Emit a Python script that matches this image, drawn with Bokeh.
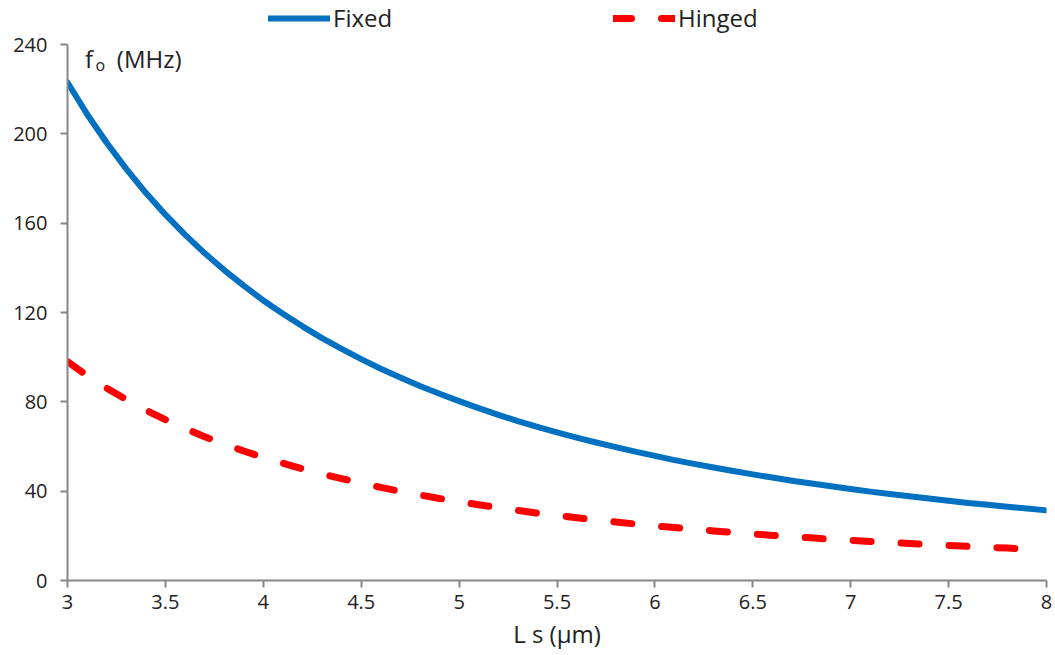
from bokeh.plotting import figure
from bokeh.layouts import column
from bokeh.models import Range1d, Legend, LegendItem, Label, FixedTicker
from bokeh.embed import file_html
from bokeh.resources import INLINE

# Span length L_s (µm)
length_fixed = [3.0, 3.1, 3.2, 3.3, 3.4, 3.5, 3.6, 3.7, 3.8, 3.9,
                4.0, 4.1, 4.2, 4.3, 4.4, 4.5, 4.6, 4.7, 4.8, 4.9,
                5.0, 5.1, 5.2, 5.3, 5.4, 5.5, 5.6, 5.7, 5.8, 5.9,
                6.0, 6.1, 6.2, 6.3, 6.4, 6.5, 6.6, 6.7, 6.8, 6.9,
                7.0, 7.1, 7.2, 7.3, 7.4, 7.5, 7.6, 7.7, 7.8, 7.9, 8.0]
# Resonance frequency f_o (MHz), fixed ends
freq_fixed = [223.0, 208.8, 196.0, 184.3, 173.6, 163.8, 154.9, 146.6, 139.0, 132.0,
              125.4, 119.4, 113.8, 108.5, 103.7, 99.1, 94.8, 90.9, 87.1, 83.6,
              80.3, 77.2, 74.2, 71.4, 68.8, 66.3, 64.0, 61.8, 59.7, 57.7,
              55.8, 53.9, 52.2, 50.6, 49.0, 47.5, 46.1, 44.7, 43.4, 42.2,
              41.0, 39.8, 38.7, 37.7, 36.7, 35.7, 34.7, 33.9, 33.0, 32.2, 31.4]

length_hinged = [3.0, 3.1, 3.2, 3.3, 3.4, 3.5, 3.6, 3.7, 3.8, 3.9,
                 4.0, 4.1, 4.2, 4.3, 4.4, 4.5, 4.6, 4.7, 4.8, 4.9,
                 5.0, 5.1, 5.2, 5.3, 5.4, 5.5, 5.6, 5.7, 5.8, 5.9,
                 6.0, 6.1, 6.2, 6.3, 6.4, 6.5, 6.6, 6.7, 6.8, 6.9,
                 7.0, 7.1, 7.2, 7.3, 7.4, 7.5, 7.6, 7.7, 7.8, 7.9]
# Resonance frequency f_o (MHz), hinged ends
freq_hinged = [98.0, 91.8, 86.1, 81.0, 76.3, 72.0, 68.1, 64.4, 61.1, 58.0,
               55.1, 52.5, 50.0, 47.7, 45.6, 43.6, 41.7, 39.9, 38.3, 36.7,
               35.3, 33.9, 32.6, 31.4, 30.2, 29.2, 28.1, 27.1, 26.2, 25.3,
               24.5, 23.7, 22.9, 22.2, 21.5, 20.9, 20.2, 19.6, 19.1, 18.5,
               18.0, 17.5, 17.0, 16.6, 16.1, 15.7, 15.3, 14.9, 14.5, 14.1]

series_names = ["Fixed", "Hinged"]
x_ticks = [3, 3.5, 4, 4.5, 5, 5.5, 6, 6.5, 7, 7.5, 8]
y_ticks = [0, 40, 80, 120, 160, 200, 240]

FONT = "Open Sans"
TEXT = "#222222"
AXIS = "#878787"
BLUE = "#0070C0"
RED = "#FF0000"
fixed_style = dict(line_color=BLUE, line_width=6, line_join="round", line_cap="round")
hinged_style = dict(line_color=RED, line_width=7, line_dash="18 30",
                    line_join="round", line_cap="round")

# ---- main plot ----
p = figure(frame_width=979, frame_height=536,
           x_range=Range1d(3, 8), y_range=Range1d(0, 240),
           output_backend="svg", toolbar_location=None,
           min_border_left=67, min_border_right=9,
           min_border_top=10, min_border_bottom=75)

p.outline_line_color = None
p.xgrid.visible = False
p.ygrid.visible = False

for ax in (p.xaxis[0], p.yaxis[0]):
    ax.axis_line_color = AXIS
    ax.axis_line_width = 2
    ax.major_tick_line_color = AXIS
    ax.major_tick_line_width = 2
    ax.major_tick_out = 7
    ax.major_tick_in = 0
    ax.minor_tick_line_color = None
    ax.major_label_text_font = FONT
    ax.major_label_text_font_size = "20px"
    ax.major_label_text_color = TEXT

p.xaxis.ticker = FixedTicker(ticks=x_ticks)
p.yaxis.ticker = FixedTicker(ticks=y_ticks)
p.xaxis.major_label_overrides = {t: (str(t) if t != int(t) else str(int(t))) for t in x_ticks}
p.xaxis.major_label_standoff = 7
p.yaxis.major_label_standoff = 13

p.xaxis.axis_label = "L s (μm)"
p.xaxis.axis_label_text_font = FONT
p.xaxis.axis_label_text_font_size = "24px"
p.xaxis.axis_label_text_font_style = "normal"
p.xaxis.axis_label_text_color = TEXT
p.xaxis.axis_label_standoff = 5

p.line(length_fixed, freq_fixed, **fixed_style)
p.line(length_hinged, freq_hinged, **hinged_style)

# y-axis title  f_o (MHz), drawn inside the top-left corner of the plot
p.add_layout(Label(x=3.09, y=233.8, text="f", text_font=FONT, text_font_size="24px",
                   text_color=TEXT, text_baseline="middle"))
p.add_layout(Label(x=3.143, y=230.8, text="o", text_font=FONT, text_font_size="16px",
                   text_color=TEXT, text_baseline="middle"))
p.add_layout(Label(x=3.252, y=233.8, text="(MHz)", text_font=FONT, text_font_size="24px",
                   text_color=TEXT, text_baseline="middle"))

# ---- legend strip above the plot ----
top = figure(width=1055, height=34, x_range=Range1d(0, 1), y_range=Range1d(0, 1),
             output_backend="svg", toolbar_location=None,
             x_axis_location=None, y_axis_location=None,
             min_border=0, outline_line_color=None)
top.xgrid.visible = False
top.ygrid.visible = False
nan = float("nan")
key_fixed = top.line([nan], [nan], **fixed_style)
key_hinged = top.line([nan], [nan], **hinged_style)

legend = Legend(items=[LegendItem(label=series_names[0], renderers=[key_fixed]),
                       LegendItem(label=series_names[1], renderers=[key_hinged])],
                orientation="horizontal", location=(201, 0),
                glyph_width=62, glyph_height=32, label_standoff=3,
                label_width=200, spacing=80, padding=0, margin=0,
                border_line_color=None, background_fill_alpha=0,
                label_text_font=FONT, label_text_font_size="24px",
                label_text_color=TEXT)
top.add_layout(legend)

layout = column(top, p, spacing=0)
open("out.html", "w").write(file_html(layout, INLINE))
